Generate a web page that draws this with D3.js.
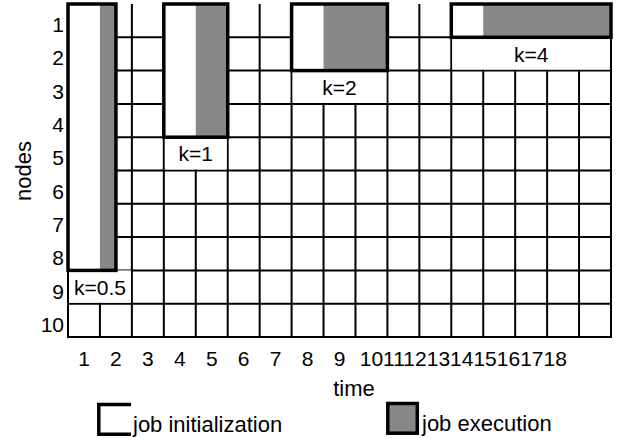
<!DOCTYPE html>
<html>
<head>
<meta charset="utf-8">
<script src="https://cdn.jsdelivr.net/npm/d3@7"></script>
<style>
  body { margin: 0; background: #fff; }
  text { font-family: "Liberation Sans", Arial, sans-serif; fill: #000; }
</style>
</head>
<body>
<div id="chart"></div>
<script>
// grid size
const nCols = 17;
const nRows = 10;
const timeLabels = ['1', '2', '3', '4', '5', '6', '7', '8', '9', '10', '11', '12', '13', '14', '15', '16', '17', '18'];
const nodeLabels = ['1', '2', '3', '4', '5', '6', '7', '8', '9', '10'];

// jobs: k, first time slot, nodes used, init length, execution length
const jobK = [0.5, 1, 2, 4];
const jobStart = [1, 4, 8, 13];
const jobNodes = [8, 4, 2, 1];
const jobInit = [1, 1, 1, 1];
const jobExec = [0.5, 1, 2, 4];

const legendLabels = ['job initialization', 'job execution'];

const width = 630, height = 438;
const svg = d3.select('#chart').append('svg')
    .attr('width', width)
    .attr('height', height);

const x = d3.scaleLinear().domain([0, nCols]).range([68, 611]);
const y = d3.scaleLinear().domain([0, nRows]).range([4, 337]);

// grid lines (no top border)
svg.append('g').selectAll('line')
    .data(d3.range(0, nCols + 1))
    .join('line')
    .attr('x1', d => x(d)).attr('x2', d => x(d))
    .attr('y1', y(0)).attr('y2', y(nRows))
    .attr('stroke', '#000').attr('stroke-width', 2);

svg.append('g').selectAll('line')
    .data(d3.range(1, nRows + 1))
    .join('line')
    .attr('x1', x(0) - 1).attr('x2', x(nCols) + 1)
    .attr('y1', d => y(d)).attr('y2', d => y(d))
    .attr('stroke', '#000').attr('stroke-width', 2);

// jobs
const jobs = jobK.map((k, i) => ({
    k: k, start: jobStart[i], nodes: jobNodes[i], init: jobInit[i], exec: jobExec[i]
}));

const jg = svg.append('g');
jobs.forEach(j => {
    const x0 = x(j.start - 1);
    const xe = x(j.start - 1 + j.init);
    const x1 = x(j.start - 1 + j.init + j.exec);
    const y0 = y(0), y1 = y(j.nodes);
    const span = Math.ceil(j.init + j.exec);

    // label cell, hides inner grid lines
    jg.append('rect')
        .attr('x', x0 + 1).attr('y', y(j.nodes))
        .attr('width', x(j.start - 1 + span) - x0 - 2)
        .attr('height', y(j.nodes + 1) - y(j.nodes) - 1)
        .attr('fill', '#fff');

    jg.append('text')
        .attr('x', (x0 + x(j.start - 1 + span)) / 2)
        .attr('y', (y(j.nodes) + y(j.nodes + 1)) / 2)
        .attr('dy', '0.36em')
        .attr('text-anchor', 'middle')
        .style('font-size', '21px')
        .text('k=' + j.k);

    jg.append('rect')
        .attr('x', x0).attr('y', y0)
        .attr('width', x1 - x0).attr('height', y1 - y0)
        .attr('fill', '#fff');

    jg.append('rect')
        .attr('x', xe).attr('y', y0)
        .attr('width', x1 - xe).attr('height', y1 - y0)
        .attr('fill', '#888');

    jg.append('rect')
        .attr('x', x0).attr('y', y0)
        .attr('width', x1 - x0).attr('height', y1 - y0)
        .attr('fill', 'none')
        .attr('stroke', '#000').attr('stroke-width', 3.5);
});

// node tick labels
svg.append('g').selectAll('text')
    .data(nodeLabels)
    .join('text')
    .attr('x', 64)
    .attr('y', (d, i) => (y(i) + y(i + 1)) / 2 + 11.5)
    .attr('text-anchor', 'end')
    .style('font-size', '21px')
    .text(d => d);

// time tick labels: single digits at column centres, the rest run together
const tg = svg.append('g');
timeLabels.slice(0, 9).forEach((d, i) => {
    tg.append('text')
        .attr('x', (x(i) + x(i + 1)) / 2)
        .attr('y', 366)
        .attr('text-anchor', 'middle')
        .style('font-size', '21px')
        .text(d);
});
const rest = tg.append('text')
    .attr('y', 366)
    .style('font-size', '21px');
rest.selectAll('tspan')
    .data(timeLabels.slice(9))
    .join('tspan')
    .text(d => d);
const firstW = rest.select('tspan').node().getComputedTextLength();
rest.attr('x', (x(9) + x(10)) / 2 - firstW / 2);

// axis titles
svg.append('text')
    .attr('x', 354).attr('y', 396)
    .attr('text-anchor', 'middle')
    .style('font-size', '22px')
    .text('time');

svg.append('text')
    .attr('transform', 'translate(31,171) rotate(-90)')
    .attr('text-anchor', 'middle')
    .style('font-size', '22px')
    .text('nodes');

// legend
const lg = svg.append('g');
lg.append('path')
    .attr('d', 'M131,404.5 H98.8 V434.3 H131')
    .attr('fill', 'none')
    .attr('stroke', '#000').attr('stroke-width', 3.5);
lg.append('rect')
    .attr('x', 387.8).attr('y', 403.5)
    .attr('width', 29.5).attr('height', 29.7)
    .attr('fill', '#888')
    .attr('stroke', '#000').attr('stroke-width', 3.5);
lg.append('text')
    .attr('x', 133).attr('y', 431.5)
    .style('font-size', '22px')
    .text(legendLabels[0]);
lg.append('text')
    .attr('x', 422).attr('y', 431)
    .style('font-size', '22px')
    .text(legendLabels[1]);
</script>
</body>
</html>
